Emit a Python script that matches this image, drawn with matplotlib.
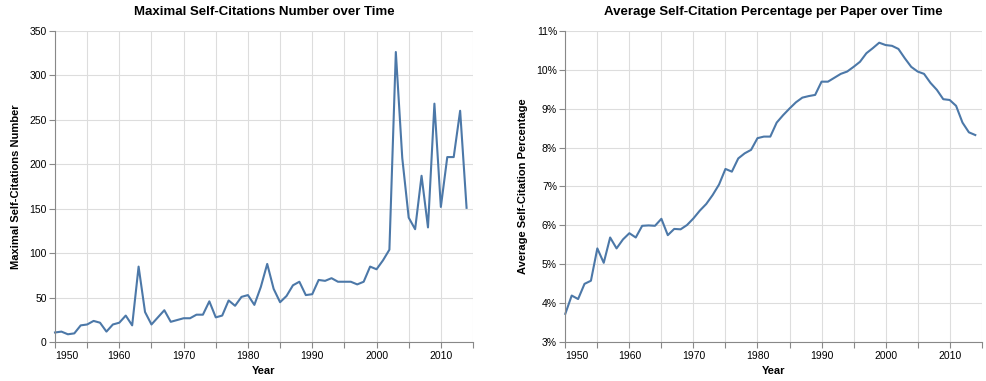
import matplotlib
matplotlib.use("Agg")
import matplotlib.pyplot as plt
from matplotlib.ticker import FixedLocator, FuncFormatter

plt.rcParams['font.family'] = ['Liberation Sans', 'DejaVu Sans']

years = list(range(1950, 2015))

max_self_citations = [
    11, 12, 9, 10, 19, 20, 24, 22, 12, 20,
    22, 30, 19, 85, 34, 20, 28, 36, 23, 25,
    27, 27, 31, 31, 46, 28, 30, 47, 41, 51,
    53, 42, 62, 88, 60, 45, 52, 64, 68, 53,
    54, 70, 69, 72, 68, 68, 68, 65, 68, 85,
    82, 92, 104, 326, 207, 140, 127, 187, 129, 268,
    152, 208, 208, 260, 151,
]

avg_self_citation_pct = [
    3.73, 4.20, 4.11, 4.50, 4.58, 5.41, 5.04, 5.69, 5.41, 5.64,
    5.80, 5.69, 5.99, 6.00, 5.99, 6.17, 5.75, 5.91, 5.90, 6.01,
    6.18, 6.38, 6.55, 6.78, 7.05, 7.45, 7.38, 7.72, 7.85, 7.94,
    8.24, 8.28, 8.28, 8.64, 8.83, 9.00, 9.16, 9.28, 9.32, 9.35,
    9.69, 9.69, 9.79, 9.89, 9.95, 10.07, 10.20, 10.42, 10.55, 10.69,
    10.63, 10.61, 10.53, 10.29, 10.07, 9.95, 9.89, 9.66, 9.48, 9.24,
    9.22, 9.07, 8.64, 8.39, 8.32,
]

x_ticks = list(range(1950, 2016, 5))
x_labels = ['1950', '', '1960', '', '1970', '', '1980', '', '1990', '', '2000', '', '2010', '']

LINE = '#4c78a8'
GRID = '#dddddd'
AXIS = '#888888'


def style_axis(ax, title, ylabel, yticks, yfmt):
    ax.set_xlim(1950, 2015)
    ax.set_ylim(yticks[0], yticks[-1])
    ax.xaxis.set_major_locator(FixedLocator(x_ticks))
    ax.set_xticklabels(x_labels)
    ax.yaxis.set_major_locator(FixedLocator(yticks))
    ax.yaxis.set_major_formatter(FuncFormatter(yfmt))
    ax.grid(True, color=GRID, linewidth=0.8)
    ax.set_axisbelow(True)
    for side in ('top', 'right'):
        ax.spines[side].set_visible(False)
    for side in ('left', 'bottom'):
        ax.spines[side].set_color(AXIS)
        ax.spines[side].set_linewidth(0.8)
    ax.tick_params(axis='both', colors=AXIS, length=4, width=0.8,
                   labelcolor='#000000', labelsize=7.5, pad=2)
    # первая подпись по оси X прижата к левому краю
    ax.get_xticklabels()[0].set_horizontalalignment('left')
    ax.set_title(title, fontsize=9.5, fontweight='bold', pad=11)
    ax.set_xlabel('Year', fontsize=8, fontweight='bold', labelpad=4)
    ax.set_ylabel(ylabel, fontsize=8, fontweight='bold', labelpad=6)


fig = plt.figure(figsize=(9.87, 3.81), dpi=100)
ax1 = fig.add_axes([55 / 987, 0.1016, 418 / 987, 0.818])
ax2 = fig.add_axes([565.3 / 987, 0.1016, 416.4 / 987, 0.818])

ax1.plot(years, max_self_citations, color=LINE, linewidth=1.5, clip_on=False)
style_axis(ax1, 'Maximal Self-Citations Number over Time',
           'Maximal Self-Citations Number',
           list(range(0, 351, 50)), lambda v, p: f'{v:.0f}')

ax2.plot(years, avg_self_citation_pct, color=LINE, linewidth=1.5, clip_on=False)
style_axis(ax2, 'Average Self-Citation Percentage per Paper over Time',
           'Average Self-Citation Percentage',
           list(range(3, 12)), lambda v, p: f'{v:.0f}%')

fig.savefig('out.png', dpi=100)
